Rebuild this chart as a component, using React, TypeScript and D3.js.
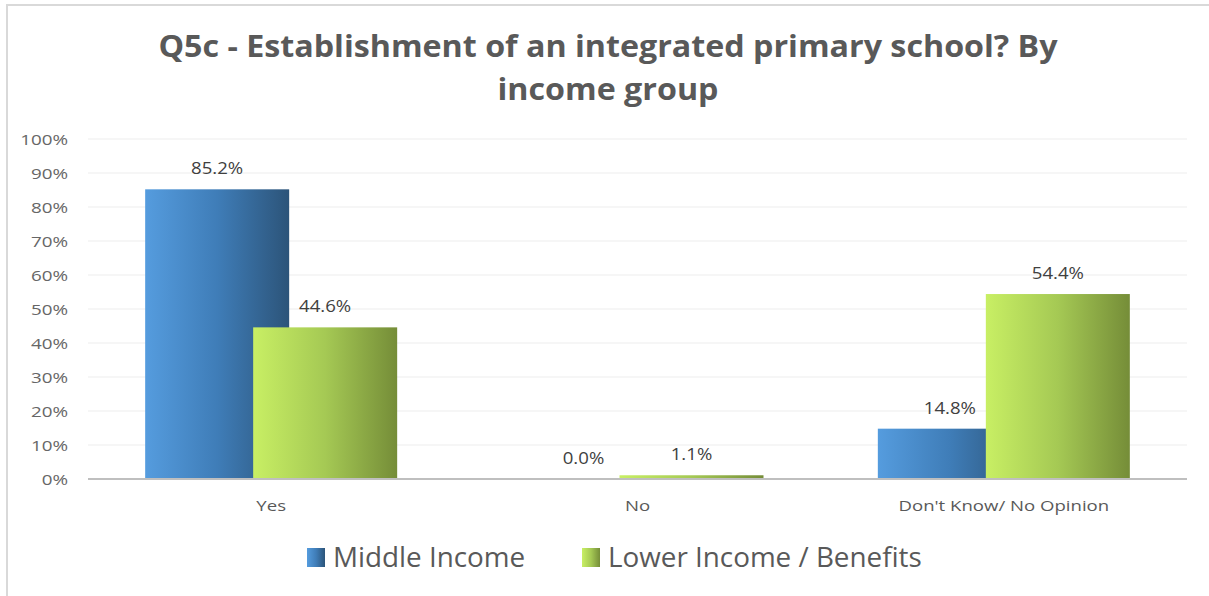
import React from "react";
import * as d3 from "d3";

const categories = ["Yes", "No", "Don't Know/ No Opinion"];
const seriesNames = ["Middle Income", "Lower Income / Benefits"];
const middleIncome = [85.2, 0.0, 14.8];
const lowerIncome = [44.6, 1.1, 54.4];
const yTicks = [0, 10, 20, 30, 40, 50, 60, 70, 80, 90, 100];
const titleLines = ["Q5c - Establishment of an integrated primary school? By", "income group"];

const W = 1209;
const H = 596;
const plot = { left: 88, right: 1187, top: 139, bottom: 479 };
const FONT = "'Open Sans', 'Noto Sans', sans-serif";

function SText(props: {
  x: number; y: number; sx: number; size: number; fill: string;
  anchor?: string; weight?: string; children: React.ReactNode;
}) {
  return (
    <text transform={`translate(${props.x},${props.y}) scale(${props.sx},1)`} x={0} y={0}
      textAnchor={props.anchor || "start"} fontFamily={FONT} fontSize={props.size}
      fontWeight={props.weight || "normal"} fill={props.fill}>{props.children}</text>
  );
}

export default function App() {
  const x = d3.scaleBand<string>().domain(categories).range([plot.left, plot.right]);
  const y = d3.scaleLinear().domain([0, 100]).range([plot.bottom, plot.top]);
  const barW = 144;
  const offsets = [-126, -18];
  const series = [middleIncome, lowerIncome];
  const grads = ["gBlue", "gGreen"];

  return (
    <svg width={W} height={H} style={{ position: "absolute", left: 0, top: 0, background: "#fff" }}>
      <defs>
        <linearGradient id="gBlue" x1="0" x2="1" y1="0" y2="0">
          <stop offset="0%" stopColor="#559CDE" />
          <stop offset="50%" stopColor="#3F7DB8" />
          <stop offset="100%" stopColor="#2C5479" />
        </linearGradient>
        <linearGradient id="gGreen" x1="0" x2="1" y1="0" y2="0">
          <stop offset="0%" stopColor="#C8EF64" />
          <stop offset="50%" stopColor="#A5C954" />
          <stop offset="100%" stopColor="#758D38" />
        </linearGradient>
      </defs>
      <rect x={0} y={0} width={W} height={H} fill="#fff" />
      <line x1={7} x2={W} y1={5} y2={5} stroke="#D9D9D9" strokeWidth={2} />
      <line x1={7} x2={7} y1={4} y2={H} stroke="#D9D9D9" strokeWidth={2} />

      {titleLines.map((t, i) => (
        <SText key={i} x={608} y={57 + i * 43} sx={1.04} size={31} weight="bold" fill="#595959" anchor="middle">{t}</SText>
      ))}

      {yTicks.map((t) => (
        <g key={t}>
          {t > 0 && (
            <line x1={plot.left} x2={plot.right} y1={y(t)} y2={y(t)} stroke="#EDEDED" strokeWidth={1} />
          )}
          <SText x={68} y={y(t) + 6} sx={1.3} size={14.5} fill="#666" anchor="end">{t}%</SText>
        </g>
      ))}

      {series.map((vals, si) =>
        categories.map((c, ci) => {
          const cx = (x(c) as number) + x.bandwidth() / 2;
          const x0 = cx + offsets[si];
          const y0 = y(vals[ci]);
          return (
            <rect key={si + "-" + ci} x={x0} y={y0} width={barW} height={plot.bottom - y0} fill={`url(#${grads[si]})`} />
          );
        })
      )}
      {series.map((vals, si) =>
        categories.map((c, ci) => {
          const cx = (x(c) as number) + x.bandwidth() / 2;
          const lx = cx + offsets[si] + barW / 2;
          return (
            <SText key={"l" + si + "-" + ci} x={lx} y={y(vals[ci]) - 15} sx={1.2} size={15.5} fill="#404040" anchor="middle">
              {vals[ci].toFixed(1)}%
            </SText>
          );
        })
      )}

      <line x1={plot.left} x2={plot.right} y1={plot.bottom} y2={plot.bottom} stroke="#BFBFBF" strokeWidth={2} />

      {categories.map((c) => (
        <SText key={c} x={(x(c) as number) + x.bandwidth() / 2} y={511} sx={1.24} size={15} fill="#595959" anchor="middle">{c}</SText>
      ))}

      {seriesNames.map((s, i) => {
        const lx = i === 0 ? 307 : 582;
        return (
          <g key={s}>
            <rect x={lx} y={548} width={18} height={19} fill={`url(#${grads[i]})`} />
            <SText x={lx + 26} y={567} sx={1.05} size={26.5} fill="#595959">{s}</SText>
          </g>
        );
      })}
    </svg>
  );
}
